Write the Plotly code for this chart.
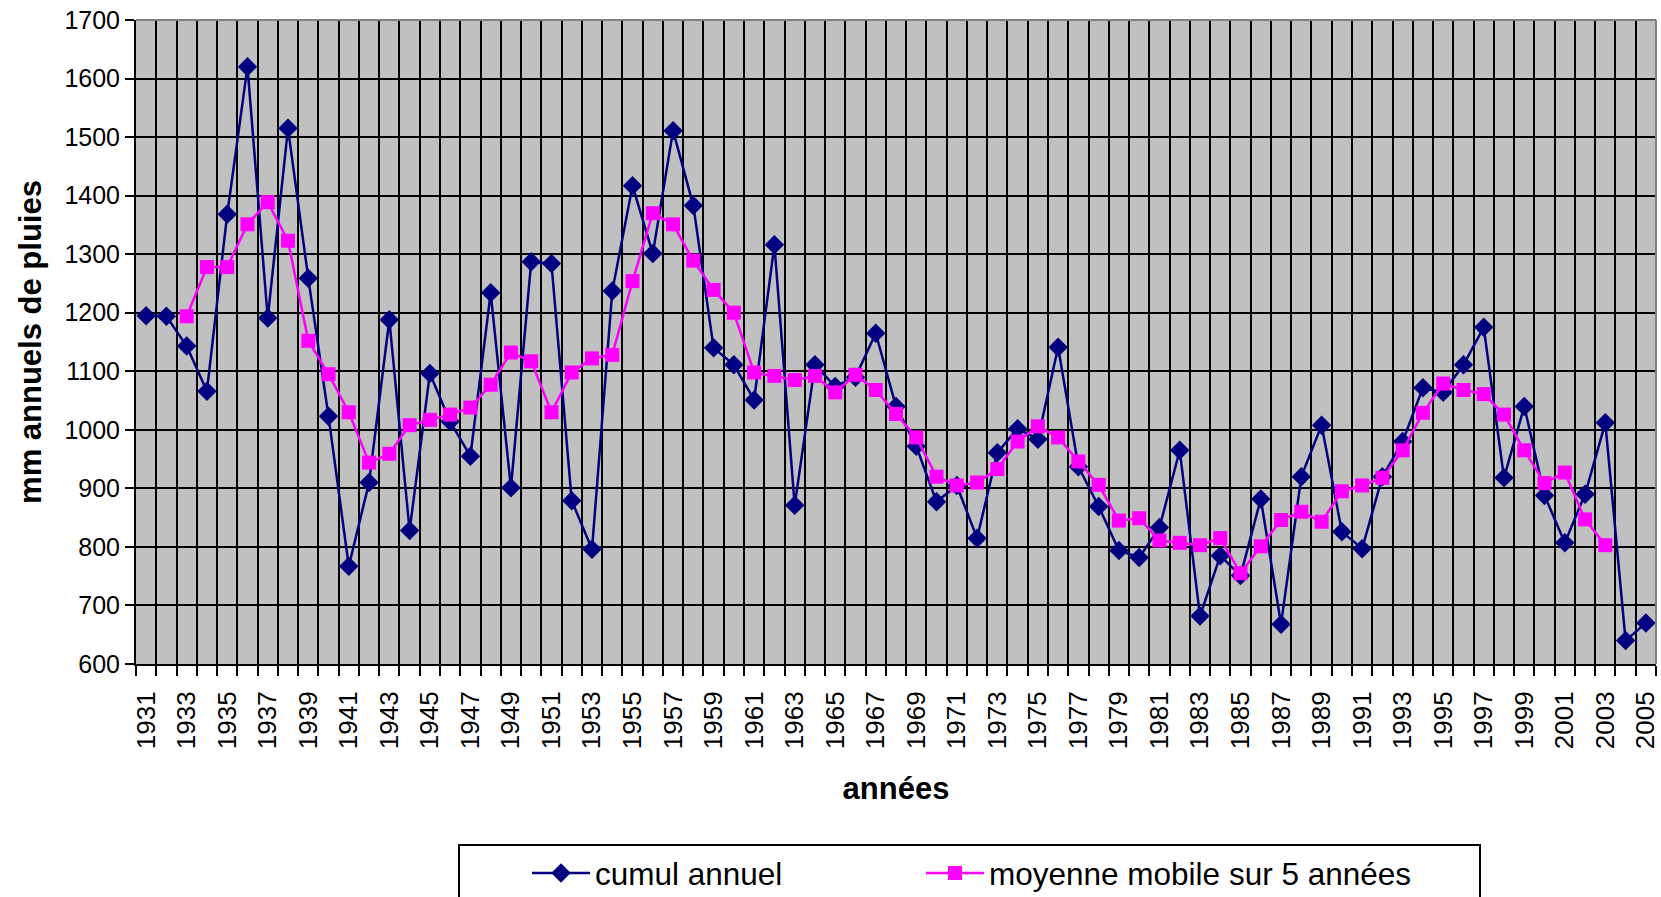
import plotly.graph_objects as go

years = list(range(1931, 2006))

cumul_annuel = [
    1195, 1194, 1143, 1066, 1368, 1620, 1191, 1515, 1259, 1023,
    767, 910, 1188, 828, 1096, 1014, 955, 1234, 901, 1287,
    1284, 879, 796, 1237, 1417, 1301, 1511, 1383, 1140, 1111,
    1051, 1316, 871, 1111, 1074, 1090, 1165, 1040, 972, 877,
    905, 815, 961, 1002, 984, 1141, 937, 869, 794, 782,
    833, 965, 682, 785, 751, 882, 668, 920, 1008, 826,
    797, 920, 980, 1072, 1064, 1111, 1175, 918, 1040, 888,
    807, 890, 1012, 640, 670,
]

moyenne_years = list(range(1933, 2004))
moyenne_mobile = [
    1194, 1278, 1278, 1351, 1389, 1323, 1152, 1095, 1030, 944,
    959, 1008, 1017, 1026, 1038, 1077, 1132, 1117, 1030, 1098,
    1122, 1128, 1254, 1370, 1351, 1289, 1239, 1200, 1098, 1092,
    1085, 1092, 1064, 1094, 1068, 1027, 987, 920, 905, 910,
    933, 980, 1006, 987, 946, 906, 845, 849, 811, 807,
    803, 815, 755, 801, 846, 860, 843, 895, 905, 918,
    965, 1029, 1079, 1068, 1061, 1026, 965, 909, 927, 847,
    803,
]

tick_years = list(range(1931, 2006, 2))
tick_labels = [str(y) for y in tick_years]

W, H = 1661, 897
L, R, T, B = 136, 5, 20, 233
PW, PH = W - L - R, H - T - B
FONT = "Liberation Sans, Arial, sans-serif"


def px_x(px):
    return (px - L) / PW


def px_y(py):
    return (H - B - py) / PH


fig = go.Figure()
fig.add_trace(go.Scatter(
    x=years, y=cumul_annuel, mode="lines+markers", name="cumul annuel",
    legend="legend",
    line=dict(color="#000080", width=2.5),
    marker=dict(symbol="diamond", size=15, color="#000080"),
))
fig.add_trace(go.Scatter(
    x=moyenne_years, y=moyenne_mobile, mode="lines+markers",
    name="moyenne mobile sur 5 années", legend="legend2",
    line=dict(color="#FF00FF", width=2.5),
    marker=dict(symbol="square", size=14, color="#FF00FF"),
))

legend_common = dict(
    orientation="h",
    xref="container", yref="container",
    xanchor="left", y=1 - 846 / H, yanchor="top",
    borderwidth=0, bgcolor="rgba(0,0,0,0)",
    font=dict(family=FONT, size=31.5, color="black"),
    itemwidth=58, indentation=68, itemclick=False,
)

fig.update_layout(
    width=W, height=H,
    margin=dict(l=L, r=R, t=T, b=B, autoexpand=False),
    paper_bgcolor="white",
    plot_bgcolor="#C0C0C0",
    font=dict(family=FONT, color="black", size=25),
    showlegend=True,
    legend=dict(x=459 / W, **legend_common),
    legend2=dict(x=853 / W, **legend_common),
)

fig.update_xaxes(
    range=[1930.5, 2005.5],
    tickmode="array", tickvals=tick_years, ticktext=tick_labels,
    tickangle=-90,
    ticks="", showgrid=False, zeroline=False,
    tickfont=dict(family=FONT, size=26, color="black"),
    ticklabelstandoff=15,
    showline=True, linecolor="black", linewidth=2,
    minor=dict(tick0=1930.5, dtick=1, showgrid=True, gridcolor="black",
               gridwidth=2, ticks="outside", ticklen=10, tickwidth=2,
               tickcolor="black"),
    title=dict(text="<b>années</b>", font=dict(family=FONT, size=31, color="black"),
               standoff=29),
    automargin=False,
)

fig.update_yaxes(
    range=[600, 1700], dtick=100, tick0=600,
    showgrid=True, gridcolor="black", gridwidth=2,
    zeroline=False,
    ticks="outside", ticklen=9, tickwidth=2, tickcolor="black",
    tickfont=dict(family=FONT, size=25, color="black"),
    ticklabelstandoff=0,
    showline=True, linecolor="black", linewidth=2,
    title=dict(text="<b>mm annuels de pluies</b>",
               font=dict(family=FONT, size=31, color="black"), standoff=14),
    automargin=False,
)

# gray frame on top and right of the plot area
fig.add_shape(type="line", xref="paper", yref="paper", x0=0, x1=1, y0=1, y1=1,
              line=dict(color="#808080", width=2))
fig.add_shape(type="line", xref="paper", yref="paper", x0=1, x1=1, y0=0, y1=1,
              line=dict(color="#808080", width=2))
# legend frame (runs past the bottom edge, as in the original)
fig.add_shape(type="rect", xref="paper", yref="paper",
              x0=px_x(459), x1=px_x(1480), y0=px_y(845), y1=px_y(930),
              line=dict(color="black", width=2), fillcolor="rgba(0,0,0,0)")

fig.write_html("out.html", config={"displayModeBar": False},
               post_script="document.body.style.margin='0';")
